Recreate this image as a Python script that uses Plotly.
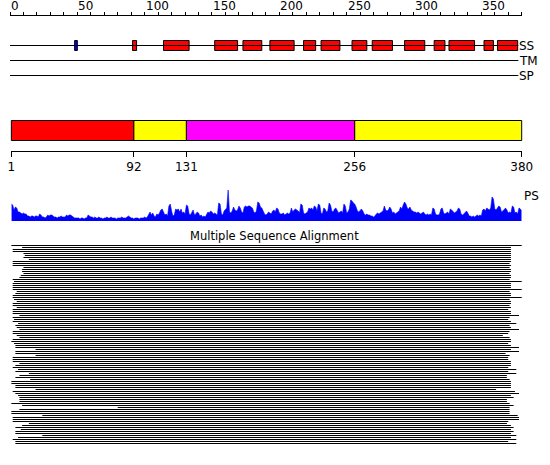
import plotly.graph_objects as go

# ---------------- data ----------------
SEQ_LEN = 380

ruler_labels = [0, 50, 100, 150, 200, 250, 300, 350]

ss_start = [48, 91, 114, 152, 173, 193, 218, 231, 254, 269, 293, 315, 326, 352, 362]
ss_end = [50, 94, 133, 169, 187, 211, 227, 245, 265, 284, 308, 323, 345, 359, 377]
ss_type = ["E", "H", "H", "H", "H", "H", "H", "H", "H", "H", "H", "H", "H", "H", "H"]

track_names = ["SS", "TM", "SP"]

dom_start = [1, 92, 131, 256]
dom_end = [92, 131, 256, 380]
dom_color = ["#ff0000", "#ffff00", "#ff00ff", "#ffff00"]
dom_ticks = [1, 92, 131, 256, 380]

ps_values = [
    17, 16, 11, 14, 13, 9, 9, 8, 7, 8,
    7, 7, 5, 5, 4, 5, 5, 4, 5, 5,
    4, 7, 6, 4, 4, 3, 4, 6, 5, 6,
    6, 5, 4, 4, 3, 4, 4, 5, 4, 4,
    4, 6, 5, 6, 6, 5, 4, 3, 3, 3,
    3, 2, 3, 3, 2, 3, 3, 6, 5, 4,
    4, 3, 4, 3, 3, 4, 3, 3, 2, 3,
    3, 4, 3, 3, 4, 3, 3, 3, 2, 3,
    3, 3, 4, 3, 3, 3, 4, 5, 4, 3,
    3, 2, 3, 3, 3, 2, 3, 3, 3, 4,
    3, 4, 7, 9, 6, 8, 5, 4, 7, 6,
    8, 11, 12, 8, 6, 7, 5, 15, 17, 10,
    5, 6, 12, 11, 12, 9, 12, 8, 9, 7,
    16, 15, 7, 6, 8, 11, 6, 7, 9, 8,
    5, 6, 4, 5, 4, 7, 9, 8, 10, 9,
    7, 8, 7, 6, 18, 17, 7, 6, 10, 12,
    13, 31, 9, 8, 10, 14, 11, 10, 11, 15,
    13, 9, 8, 14, 15, 14, 15, 15, 14, 13,
    9, 8, 10, 19, 18, 14, 13, 10, 7, 6,
    7, 9, 8, 7, 10, 11, 9, 13, 12, 8,
    7, 7, 8, 6, 7, 8, 7, 8, 13, 9,
    11, 12, 11, 10, 8, 17, 16, 8, 7, 8,
    9, 13, 12, 13, 11, 15, 14, 10, 17, 16,
    8, 7, 13, 12, 9, 10, 18, 16, 10, 9,
    12, 13, 11, 8, 9, 10, 8, 17, 15, 8,
    9, 12, 21, 20, 18, 17, 14, 10, 9, 11,
    12, 10, 7, 6, 7, 6, 6, 5, 5, 4,
    5, 7, 8, 7, 8, 9, 10, 15, 11, 10,
    11, 14, 12, 8, 9, 7, 8, 9, 10, 14,
    12, 16, 19, 17, 13, 12, 14, 11, 10, 9,
    9, 8, 9, 8, 7, 8, 9, 7, 6, 7,
    6, 7, 6, 13, 12, 7, 6, 6, 7, 12,
    13, 8, 7, 8, 9, 7, 12, 11, 9, 8,
    9, 10, 13, 12, 7, 6, 7, 9, 10, 8,
    5, 5, 4, 5, 4, 5, 6, 5, 6, 5,
    11, 12, 10, 13, 12, 11, 13, 24, 22, 12,
    11, 13, 15, 14, 9, 10, 12, 13, 11, 8,
    9, 8, 15, 14, 8, 9, 7, 13, 12, 10,
]

msa_start = [
    1, 9, 2, 2, 10, 11, 10, 14, 2, 2,
    2, 10, 9, 9, 10, 8, 7, 2, 3, 2,
    2, 2, 2, 5, 4, 2, 2, 3, 5, 2,
    2, 5, 2, 2, 2, 7, 2, 3, 2, 6,
    4, 5, 7, 2, 2, 5, 7, 2, 1, 3,
    4, 4, 19, 4, 4, 19, 2, 2, 2, 7,
    4, 2, 6, 4, 14, 7, 4, 15, 1, 1,
    4, 4, 19, 2, 4, 6, 7, 7, 7, 1,
    9, 80, 7, 1, 1, 24, 2, 2, 2, 14,
    9, 4, 8, 4, 4, 24, 6, 2, 4, 4,
]
msa_end = [
    380, 372, 372, 372, 372, 372, 372, 372, 372, 371,
    372, 371, 372, 372, 371, 372, 372, 371, 380, 372,
    372, 372, 380, 371, 372, 372, 380, 371, 372, 372,
    371, 372, 370, 372, 372, 378, 371, 370, 372, 376,
    371, 372, 378, 371, 370, 366, 371, 372, 372, 370,
    372, 378, 372, 378, 368, 371, 370, 370, 372, 372,
    372, 370, 376, 370, 376, 369, 369, 371, 372, 372,
    372, 372, 361, 375, 378, 372, 374, 369, 369, 371,
    374, 371, 371, 371, 371, 377, 378, 378, 370, 369,
    372, 374, 372, 374, 372, 376, 372, 376, 370, 376,
]

# ---------------- layout constants (pixels) ----------------
W, H = 550, 465
X0 = 10.0
K = 511.7 / SEQ_LEN
FONT = "DejaVu Sans"
RULER_Y = 14.5
TRACK_Y = [45.5, 60.5, 75.5]
TRACK_END = SEQ_LEN - 2.5
DOM_Y = 130.5
DOM_AXIS_Y = 150.5
PS_BASE, PS_TOP, PS_MAX = 221.0, 189.0, 32
MSA_TOP, ROW_PITCH = 245.5, 2.0

ss_colors = {"H": "#ff0000", "E": "#0000ff"}

fig = go.Figure()

# SS / TM / SP track lines (on the ruler axis x2)
for name, ty in zip(track_names, TRACK_Y):
    fig.add_trace(go.Scatter(x=[0, TRACK_END], y=[ty, ty], mode="lines",
                             line=dict(color="black", width=1),
                             hoverinfo="skip", xaxis="x2", yaxis="y", cliponaxis=False))

# SS boxes
fig.add_trace(go.Bar(
    orientation="h",
    y=[TRACK_Y[0]] * len(ss_start),
    base=ss_start,
    x=[e - s for s, e in zip(ss_start, ss_end)],
    width=10,
    marker=dict(color=[ss_colors[t] for t in ss_type],
                line=dict(color="black", width=1)),
    xaxis="x", yaxis="y", hoverinfo="skip"))

# domain bar
fig.add_trace(go.Bar(
    orientation="h",
    y=[DOM_Y] * len(dom_start),
    base=dom_start,
    x=[e - s for s, e in zip(dom_start, dom_end)],
    width=20,
    marker=dict(color=dom_color, line=dict(color="black", width=1)),
    xaxis="x", yaxis="y", hoverinfo="skip"))

# PS profile (on the domain-ruler axis x3)
fig.add_trace(go.Scatter(
    x=list(range(1, SEQ_LEN + 1)), y=ps_values, mode="lines",
    fill="tozeroy", fillcolor="#0000ff",
    line=dict(color="#0000ff", width=0.6),
    xaxis="x3", yaxis="y2", hoverinfo="skip"))

# MSA lines
mx, my = [], []
for i, (s, e) in enumerate(zip(msa_start, msa_end)):
    mx += [s, e, None]
    my += [i, i, None]
fig.add_trace(go.Scatter(x=mx, y=my, mode="lines",
                         line=dict(color="black", width=1),
                         xaxis="x", yaxis="y3", hoverinfo="skip"))

annotations = []
for v in ruler_labels:
    annotations.append(dict(x=v, y=6, xref="x", yref="y", text=str(v),
                            xanchor="left", yanchor="middle", showarrow=False,
                            xshift=-1, font=dict(family=FONT, size=12, color="black")))
for name, ty in zip(track_names, TRACK_Y):
    annotations.append(dict(x=TRACK_END, y=ty, xref="x", yref="y", text=name,
                            xanchor="left", yanchor="middle", showarrow=False,
                            xshift=-1, font=dict(family=FONT, size=12, color="black")))
annotations.append(dict(x=SEQ_LEN, y=196, xref="x", yref="y", text="PS",
                        xanchor="left", yanchor="middle", showarrow=False,
                        font=dict(family=FONT, size=12, color="black")))
annotations.append(dict(x=(W / 2 - 1) / W, y=236, xref="paper", yref="y",
                        text="Multiple Sequence Alignment", xanchor="center",
                        yanchor="middle", showarrow=False,
                        font=dict(family=FONT, size=11.5, color="black")))

hidden = dict(visible=False, showgrid=False, zeroline=False, fixedrange=True)

fig.update_layout(
    width=W, height=H, autosize=False,
    margin=dict(l=0, r=0, t=0, b=0, pad=0, autoexpand=False),
    paper_bgcolor="white", plot_bgcolor="rgba(0,0,0,0)",
    showlegend=False, barmode="overlay", bargap=0,
    xaxis=dict(range=[-X0 / K, (W - X0) / K], domain=[0, 1], **hidden),
    yaxis=dict(range=[H, 0], domain=[0, 1], **hidden),
    yaxis2=dict(range=[0, PS_MAX], domain=[(H - PS_BASE) / H, (H - PS_TOP) / H],
                anchor="x3", **hidden),
    yaxis3=dict(range=[(H - MSA_TOP) / ROW_PITCH, -MSA_TOP / ROW_PITCH],
                domain=[0, 1], anchor="x", **hidden),
    xaxis2=dict(domain=[X0 / W, (X0 + K * SEQ_LEN) / W], range=[0, SEQ_LEN],
                anchor="free", position=1 - RULER_Y / H, side="top",
                showline=True, linecolor="black", linewidth=1,
                ticks="outside", ticklen=3, tickwidth=1, tickcolor="black",
                tickmode="linear", tick0=0, dtick=10, showticklabels=False,
                showgrid=False, zeroline=False, fixedrange=True, automargin=False),
    xaxis3=dict(domain=[(X0 + K * 1) / W, (X0 + K * SEQ_LEN) / W], range=[1, SEQ_LEN],
                anchor="free", position=1 - DOM_AXIS_Y / H, side="bottom",
                showline=True, linecolor="black", linewidth=1,
                ticks="outside", ticklen=5, tickwidth=1, tickcolor="black",
                tickmode="array", tickvals=dom_ticks, ticktext=[str(t) for t in dom_ticks],
                tickfont=dict(family=FONT, size=12, color="black"),
                showgrid=False, zeroline=False, fixedrange=True, automargin=False),
    annotations=annotations,
)

fig.write_html("out.html",
               config={"displayModeBar": False, "staticPlot": True, "responsive": False},
               post_script="document.body.style.margin='0';")
